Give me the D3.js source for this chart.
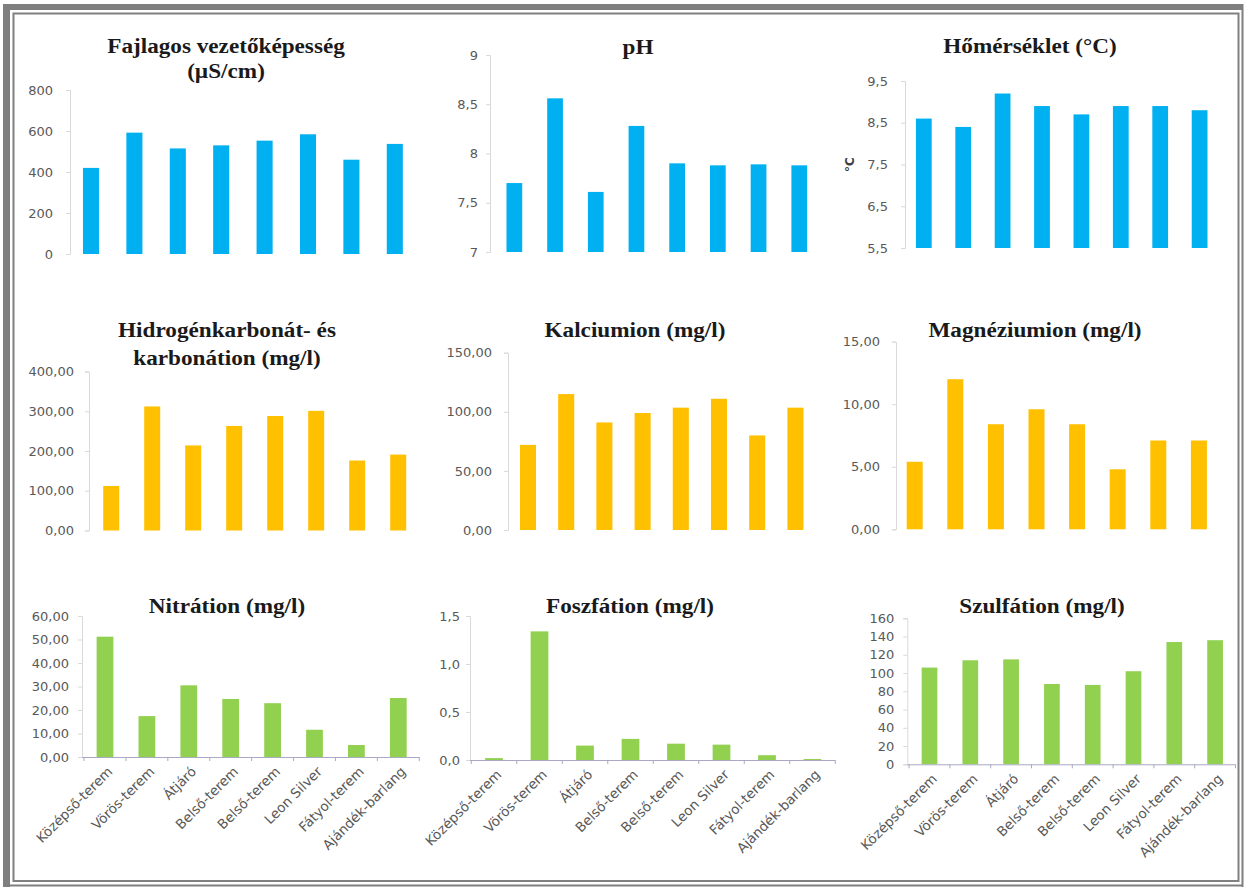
<!DOCTYPE html>
<html>
<head>
<meta charset="utf-8">
<script src="https://cdn.jsdelivr.net/npm/d3@7"></script>
<style>
  html, body { margin: 0; padding: 0; background: #ffffff; }
  svg { display: block; }
</style>
</head>
<body>
<svg id="chart" width="1244" height="887"></svg>
<script>
// Sampling points (same order in every panel)
const categories = ["Középső-terem", "Vörös-terem", "Átjáró", "Belső-terem", "Belső-terem", "Leon Silver", "Fátyol-terem", "Ajándék-barlang"];

// Measured values per parameter
const conductivity = [420, 592, 515, 530, 553, 584, 460, 537];
const ph = [7.70, 8.56, 7.61, 8.28, 7.90, 7.88, 7.89, 7.88];
const temperature = [8.6, 8.4, 9.2, 8.9, 8.7, 8.9, 8.9, 8.8];
const bicarbonate = [112, 312, 214, 263, 288, 301, 176, 191];
const calcium = [72, 115, 91, 99, 103.5, 111, 80, 103.5];
const magnesium = [5.4, 12.0, 8.4, 9.6, 8.4, 4.8, 7.1, 7.1];
const nitrate = [51.2, 17.4, 30.5, 24.7, 22.9, 11.6, 5.1, 25.1];
const phosphate = [0.02, 1.34, 0.15, 0.22, 0.17, 0.16, 0.05, 0.01];
const sulfate = [106, 114, 115, 88, 87, 102, 134, 136];

// Y axis tick values
const conductivityTicks = [0, 200, 400, 600, 800];
const phTicks = [7, 7.5, 8, 8.5, 9];
const temperatureTicks = [5.5, 6.5, 7.5, 8.5, 9.5];
const bicarbonateTicks = [0, 100, 200, 300, 400];
const calciumTicks = [0, 50, 100, 150];
const magnesiumTicks = [0, 5, 10, 15];
const nitrateTicks = [0, 10, 20, 30, 40, 50, 60];
const phosphateTicks = [0, 0.5, 1.0, 1.5];
const sulfateTicks = [0, 20, 40, 60, 80, 100, 120, 140, 160];

// Panel titles
const titles = [
  ["Fajlagos vezetőképesség", "(µS/cm)"],
  ["pH"],
  ["Hőmérséklet (°C)"],
  ["Hidrogénkarbonát- és", "karbonátion (mg/l)"],
  ["Kalciumion (mg/l)"],
  ["Magnéziumion (mg/l)"],
  ["Nitrátion (mg/l)"],
  ["Foszfátion (mg/l)"],
  ["Szulfátion (mg/l)"]
];

// Hungarian-style decimal comma formatters
const comma = f => v => d3.format(f)(v).replace(".", ",");
const fmtInt = d3.format("d");
const fmtHalf = v => String(v).replace(".", ",");

const BLUE = "#00b0f0", ORANGE = "#ffc000", GREEN = "#92d050";

// Panel geometry and styling
const panels = [
  { values: conductivity, ticks: conductivityTicks, domain: [0, 800], fmt: fmtInt, color: BLUE, pad: 13,
    axisX: 70, y0: 254, yTop: 90, x0: 69.3, x1: 416.5, barFrac: 0.37, tx: 226, tBase: [53, 78] },
  { values: ph, ticks: phTicks, domain: [7, 9], fmt: fmtHalf, color: BLUE, pad: 8,
    axisX: 490, y0: 252, yTop: 55, x0: 494, x1: 819.6, barFrac: 0.386, tx: 638, tBase: [54] },
  { values: temperature, ticks: temperatureTicks, domain: [5.5, 9.5], fmt: fmtHalf, color: BLUE, pad: 13,
    axisX: 905, y0: 248, yTop: 81, x0: 904.1, x1: 1219.3, barFrac: 0.40, tx: 1030, tBase: [53], yLabel: "°C" },
  { values: bicarbonate, ticks: bicarbonateTicks, domain: [0, 400], fmt: comma(".2f"), color: ORANGE, pad: 11,
    axisX: 89, y0: 530.5, yTop: 371.5, x0: 90.7, x1: 418.7, barFrac: 0.39, tx: 227, tBase: [337, 365] },
  { values: calcium, ticks: calciumTicks, domain: [0, 150], fmt: comma(".2f"), color: ORANGE, pad: 12,
    axisX: 508, y0: 530, yTop: 352.7, x0: 508.9, x1: 814.5, barFrac: 0.42, tx: 635, tBase: [337] },
  { values: magnesium, ticks: magnesiumTicks, domain: [0, 15], fmt: comma(".2f"), color: ORANGE, pad: 12,
    axisX: 896, y0: 529.3, yTop: 341.7, x0: 894.4, x1: 1219.2, barFrac: 0.394, tx: 1035, tBase: [337] },
  { values: nitrate, ticks: nitrateTicks, domain: [0, 60], fmt: comma(".2f"), color: GREEN, pad: 9,
    axisX: 82, y0: 757, yTop: 616, x0: 84.05, x1: 419.25, barFrac: 0.40, tx: 227, tBase: [613], xAxis: true },
  { values: phosphate, ticks: phosphateTicks, domain: [0, 1.5], fmt: comma(".1f"), color: GREEN, pad: 6,
    axisX: 470, y0: 760, yTop: 616, x0: 471.25, x1: 835.25, barFrac: 0.39, tx: 630, tBase: [613], xAxis: true },
  { values: sulfate, ticks: sulfateTicks, domain: [0, 160], fmt: fmtInt, color: GREEN, pad: 9,
    axisX: 907.3, y0: 764.3, yTop: 618.3, x0: 909.1, x1: 1235.5, barFrac: 0.385, tx: 1042, tBase: [613], xAxis: true }
];

const svg = d3.select("#chart");

// Page background
svg.append("rect").attr("width", 1244).attr("height", 887).attr("fill", "#ffffff");

panels.forEach((p, pi) => {
  const g = svg.append("g");
  const idx = d3.range(categories.length);

  const x = d3.scaleBand()
    .domain(idx)
    .range([p.x0, p.x1])
    .paddingInner(1 - p.barFrac)
    .paddingOuter((1 - p.barFrac) / 2);

  const y = d3.scaleLinear().domain(p.domain).range([p.y0, p.yTop]);

  // Y axis
  const yAxis = d3.axisLeft(y).tickValues(p.ticks).tickFormat(p.fmt).tickSize(4).tickPadding(p.pad);
  const ya = g.append("g").attr("transform", `translate(${p.axisX},0)`).call(yAxis);
  ya.select(".domain").attr("stroke", "#d9d9d9").attr("stroke-width", 1);
  ya.selectAll(".tick line").attr("stroke", "#d9d9d9");
  ya.selectAll(".tick text")
    .attr("fill", "#595959")
    .style("font-family", "'DejaVu Sans', sans-serif")
    .style("font-size", "13px");

  // Bars
  g.selectAll("rect.bar")
    .data(p.values)
    .join("rect")
    .attr("class", "bar")
    .attr("x", (d, i) => x(i))
    .attr("width", x.bandwidth())
    .attr("y", d => y(d))
    .attr("height", d => y(p.domain[0]) - y(d))
    .attr("fill", p.color);

  // Category axis with rotated labels (bottom row only)
  if (p.xAxis) {
    const step = x.step();
    g.append("line")
      .attr("x1", p.axisX).attr("x2", p.x1)
      .attr("y1", p.y0 + 0.5).attr("y2", p.y0 + 0.5)
      .attr("stroke", "#a9a9c4").attr("stroke-width", 1);
    g.selectAll("line.xtick")
      .data(d3.range(categories.length + 1))
      .join("line")
      .attr("class", "xtick")
      .attr("x1", k => p.x0 + k * step).attr("x2", k => p.x0 + k * step)
      .attr("y1", p.y0).attr("y2", p.y0 + 4)
      .attr("stroke", "#a9a9c4");
    g.selectAll("text.cat")
      .data(categories)
      .join("text")
      .attr("class", "cat")
      .attr("transform", (d, i) => `translate(${x(i) + x.bandwidth() / 2 + 5},${p.y0 + 12}) rotate(-45)`)
      .attr("text-anchor", "end")
      .attr("dy", "0.35em")
      .attr("fill", "#595959")
      .style("font-family", "'DejaVu Sans', sans-serif")
      .style("font-size", "13.5px")
      .text(d => d);
  }

  // Axis unit label
  if (p.yLabel) {
    g.append("text")
      .attr("transform", `translate(${p.axisX - 51},${(p.y0 + p.yTop) / 2}) rotate(-90)`)
      .attr("text-anchor", "middle")
      .attr("fill", "#404040")
      .style("font-family", "'DejaVu Sans', sans-serif")
      .style("font-size", "12px")
      .style("font-weight", "bold")
      .text(p.yLabel);
  }

  // Title (serif, slightly widened)
  titles[pi].forEach((line, li) => {
    g.append("text")
      .attr("transform", `translate(${p.tx},${p.tBase[li]}) scale(1.16,1)`)
      .attr("text-anchor", "middle")
      .attr("fill", "#1a1a1a")
      .style("font-family", "'Liberation Serif', 'Times New Roman', serif")
      .style("font-size", "20px")
      .style("font-weight", "bold")
      .text(line);
  });
});

// Double frame around the whole figure
const frame = svg.append("g").attr("fill", "#7f7f7f");
frame.append("rect").attr("x", 3).attr("y", 4).attr("width", 1240).attr("height", 6);
frame.append("rect").attr("x", 3).attr("y", 4).attr("width", 7).attr("height", 883);
frame.append("rect").attr("x", 1241.5).attr("y", 4).attr("width", 2).attr("height", 883);
frame.append("rect").attr("x", 3).attr("y", 884.5).attr("width", 1240).attr("height", 2);
svg.append("rect")
  .attr("x", 13.5).attr("y", 13.5).attr("width", 1225).attr("height", 867.5)
  .attr("fill", "none").attr("stroke", "#808080").attr("stroke-width", 2);
</script>
</body>
</html>
